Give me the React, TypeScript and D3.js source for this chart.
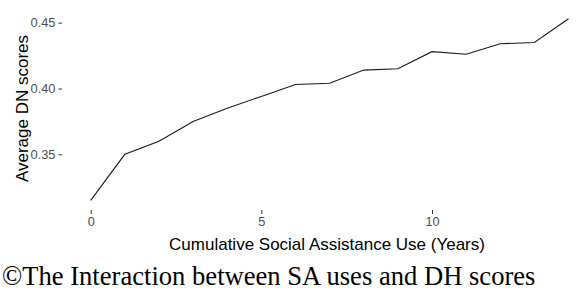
// @ts-nocheck
import React, { useRef, useEffect } from "react";
import * as d3 from "d3";

// cumulative years of social assistance use
const years = [0, 1, 2, 3, 4, 5, 6, 7, 8, 9, 10, 11, 12, 13, 14];
// average DN score per year
const dnScores = [
  0.315, 0.35, 0.36, 0.375, 0.385, 0.394, 0.403, 0.404, 0.414, 0.415, 0.428,
  0.426, 0.434, 0.435, 0.453,
];
const xTicks = [0, 5, 10];
const yTicks = [0.35, 0.4, 0.45];

const LineChart = ({ width = 585, height = 288 }) => {
  const svgRef = useRef(null);

  useEffect(() => {
    if (!svgRef.current) return;
    const svg = d3.select(svgRef.current);
    svg.selectAll("*").remove();

    svg
      .attr("width", width)
      .attr("height", height)
      .attr("viewBox", [0, 0, width, height]);

    const x = d3.scaleLinear().domain([0, 10]).range([90.7, 432]);
    const y = d3.scaleLinear().domain([0.35, 0.45]).range([154.3, 22.7]);

    const data = years.map((yr, i) => ({ yr, v: dnScores[i] }));

    // x axis
    const gx = svg
      .append("g")
      .attr("transform", `translate(0,210)`)
      .call(d3.axisBottom(x).tickValues(xTicks).tickSize(4).tickPadding(3))
      .call((g) => g.select(".domain").remove());
    gx.selectAll("line").attr("stroke", "#333");
    gx.selectAll("text")
      .attr("fill", "#4d4d4d")
      .attr("font-family", "Liberation Sans, Arial, sans-serif")
      .attr("font-size", 12.8);

    // y axis
    const gy = svg
      .append("g")
      .attr("transform", `translate(62,0)`)
      .call(
        d3
          .axisLeft(y)
          .tickValues(yTicks)
          .tickFormat(d3.format(".2f"))
          .tickSize(3.5)
          .tickPadding(3)
      )
      .call((g) => g.select(".domain").remove());
    gy.selectAll("line").attr("stroke", "#333");
    gy.selectAll("text")
      .attr("fill", "#4d4d4d")
      .attr("font-family", "Liberation Sans, Arial, sans-serif")
      .attr("font-size", 12.8);

    // the line
    svg
      .append("path")
      .datum(data)
      .attr("fill", "none")
      .attr("stroke", "#1a1a1a")
      .attr("stroke-width", 1.1)
      .attr(
        "d",
        d3
          .line()
          .x((d) => x(d.yr))
          .y((d) => y(d.v))
      );

    // axis titles
    svg
      .append("text")
      .attr("x", 327)
      .attr("y", 250)
      .attr("text-anchor", "middle")
      .attr("font-family", "Liberation Sans, Arial, sans-serif")
      .attr("font-size", 17)
      .attr("fill", "#000")
      .text("Cumulative Social Assistance Use (Years)");

    svg
      .append("text")
      .attr("transform", `translate(28,108.5) rotate(-90)`)
      .attr("text-anchor", "middle")
      .attr("font-family", "Liberation Sans, Arial, sans-serif")
      .attr("font-size", 17)
      .attr("fill", "#000")
      .text("Average DN scores");

    // caption
    svg
      .append("text")
      .attr("x", 2)
      .attr("y", 285)
      .attr("font-family", "Liberation Serif, Times New Roman, serif")
      .attr("font-size", 26.6)
      .attr("fill", "#000")
      .text("©The Interaction between SA uses and DH scores");
  }, [width, height]);

  return (
    <svg
      ref={svgRef}
      style={{ position: "absolute", left: 0, top: 0, background: "#fff" }}
    ></svg>
  );
};

export default function App() {
  return <LineChart />;
}
